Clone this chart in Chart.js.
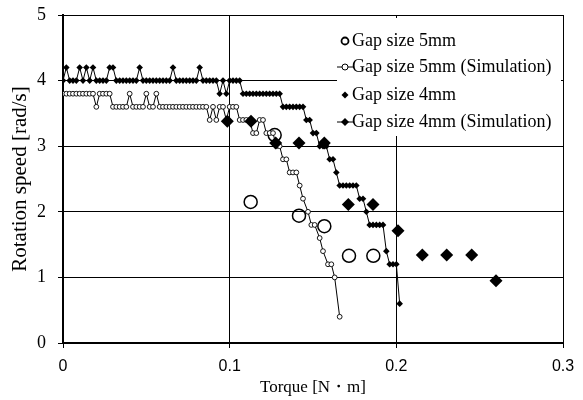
<!DOCTYPE html>
<html>
<head>
<meta charset="utf-8">
<script src="https://cdn.jsdelivr.net/npm/chart.js@4.4.1/dist/chart.umd.min.js"></script>
<style>
    html, body { margin: 0; padding: 0; background: #fff; }
</style>
</head>
<body>
<canvas id="grafico-rotacao" width="583" height="400"></canvas>
<script>
// Experimento, gap 5mm (circulos grandes)
var torque5mm = [0.1126, 0.127, 0.1416, 0.1568, 0.1716, 0.1862];
var speed5mm  = [2.15, 3.17, 1.94, 1.78, 1.33, 1.33];

// Experimento, gap 4mm (losangos grandes)
var torque4mm = [0.0986, 0.1128, 0.1276, 0.1416, 0.1568, 0.1712, 0.186, 0.201, 0.2156, 0.2302, 0.2452, 0.2598];
var speed4mm  = [3.38, 3.38, 3.05, 3.05, 3.05, 2.11, 2.11, 1.71, 1.34, 1.34, 1.34, 0.95];

// Simulacao, gap 5mm
var simTorque5mm = [
    0.000, 0.002, 0.004, 0.006, 0.008, 0.010, 0.012, 0.014, 0.016, 0.018,
    0.020, 0.022, 0.024, 0.026, 0.028, 0.030, 0.032, 0.034, 0.036, 0.038,
    0.040, 0.042, 0.044, 0.046, 0.048, 0.050, 0.052, 0.054, 0.056, 0.058,
    0.060, 0.062, 0.064, 0.066, 0.068, 0.070, 0.072, 0.074, 0.076, 0.078,
    0.080, 0.082, 0.084, 0.086, 0.088, 0.090, 0.092, 0.094, 0.096, 0.098,
    0.100, 0.102, 0.104, 0.106, 0.108, 0.110, 0.112, 0.114, 0.116, 0.118,
    0.120, 0.122, 0.124, 0.126, 0.128, 0.130, 0.132, 0.134, 0.136, 0.138,
    0.140, 0.142, 0.144, 0.147, 0.149, 0.151, 0.154, 0.156, 0.159, 0.161,
    0.163, 0.166
];
var simSpeed5mm = [
    3.8, 3.8, 3.8, 3.8, 3.8, 3.8, 3.8, 3.8, 3.8, 3.8,
    3.6, 3.8, 3.8, 3.8, 3.8, 3.6, 3.6, 3.6, 3.6, 3.6,
    3.8, 3.6, 3.6, 3.6, 3.6, 3.8, 3.6, 3.6, 3.8, 3.6,
    3.6, 3.6, 3.6, 3.6, 3.6, 3.6, 3.6, 3.6, 3.6, 3.6,
    3.6, 3.6, 3.6, 3.6, 3.4, 3.6, 3.4, 3.6, 3.6, 3.4,
    3.6, 3.6, 3.6, 3.4, 3.4, 3.4, 3.4, 3.2, 3.2, 3.4,
    3.4, 3.2, 3.2, 3.2, 3.0, 3.0, 2.8, 2.8, 2.6, 2.6,
    2.6, 2.4, 2.2, 2.0, 1.8, 1.8, 1.6, 1.4, 1.2, 1.2,
    1.0, 0.4
];

// Simulacao, gap 4mm
var simTorque4mm = [
    0.000, 0.002, 0.004, 0.006, 0.008, 0.010, 0.012, 0.014, 0.016, 0.018,
    0.020, 0.022, 0.024, 0.026, 0.028, 0.030, 0.032, 0.034, 0.036, 0.038,
    0.040, 0.042, 0.044, 0.046, 0.048, 0.050, 0.052, 0.054, 0.056, 0.058,
    0.060, 0.062, 0.064, 0.066, 0.068, 0.070, 0.072, 0.074, 0.076, 0.078,
    0.080, 0.082, 0.084, 0.086, 0.088, 0.090, 0.092, 0.094, 0.096, 0.098,
    0.100, 0.102, 0.104, 0.106, 0.108, 0.110, 0.112, 0.114, 0.116, 0.118,
    0.120, 0.122, 0.124, 0.126, 0.128, 0.130, 0.132, 0.134, 0.136, 0.138,
    0.140, 0.142, 0.144, 0.146, 0.148, 0.150, 0.152, 0.154, 0.156, 0.158,
    0.160, 0.162, 0.164, 0.166, 0.168, 0.170, 0.172, 0.174, 0.176, 0.178,
    0.180, 0.182, 0.184, 0.186, 0.188, 0.190, 0.192, 0.194, 0.196, 0.198,
    0.200, 0.202
];
var simSpeed4mm = [
    4.0, 4.2, 4.0, 4.0, 4.0, 4.2, 4.0, 4.2, 4.0, 4.2,
    4.0, 4.0, 4.0, 4.0, 4.2, 4.2, 4.0, 4.0, 4.0, 4.0,
    4.0, 4.0, 4.0, 4.2, 4.0, 4.0, 4.0, 4.0, 4.0, 4.0,
    4.0, 4.0, 4.0, 4.2, 4.0, 4.0, 4.0, 4.0, 4.0, 4.0,
    4.0, 4.2, 4.0, 4.0, 4.0, 4.0, 4.0, 3.8, 4.0, 3.8,
    4.0, 4.0, 4.0, 4.0, 3.8, 3.8, 3.8, 3.8, 3.8, 3.8,
    3.8, 3.8, 3.8, 3.8, 3.8, 3.8, 3.6, 3.6, 3.6, 3.6,
    3.6, 3.6, 3.6, 3.4, 3.4, 3.2, 3.2, 3.0, 3.0, 3.0,
    2.8, 2.8, 2.6, 2.4, 2.4, 2.4, 2.4, 2.4, 2.4, 2.2,
    2.2, 2.0, 1.8, 1.8, 1.8, 1.8, 1.8, 1.4, 1.2, 1.2,
    1.2, 0.6
];

var legendas = ["Gap size 5mm", "Gap size 5mm (Simulation)", "Gap size 4mm", "Gap size 4mm (Simulation)"];
var xTicks = [0, 0.1, 0.2, 0.3];
var yTicks = [0, 1, 2, 3, 4, 5];

function montarPontos(xs, ys) {
    return xs.map(function (x, i) {
        return { x: x, y: ys[i] };
    });
}

// marcadores da legenda
function losango(ctx, x, y, r) {
    ctx.beginPath();
    ctx.moveTo(x, y - r);
    ctx.lineTo(x + r, y);
    ctx.lineTo(x, y + r);
    ctx.lineTo(x - r, y);
    ctx.closePath();
    ctx.fill();
}

function circulo(ctx, x, y, r, larg) {
    ctx.beginPath();
    ctx.arc(x, y, r, 0, Math.PI * 2);
    ctx.fillStyle = "#fff";
    ctx.fill();
    ctx.lineWidth = larg;
    ctx.stroke();
}

var legendaPlugin = {
    id: "legendaInterna",
    afterDraw: function (chart) {
        var ctx = chart.ctx;
        var area = chart.chartArea;
        var x0 = area.right - 226;
        var linhas = [41, 67, 95, 122];
        var mx = x0 + 8;

        ctx.save();
        ctx.fillStyle = "#fff";
        ctx.fillRect(x0, area.top + 3, 224, 118);

        ctx.strokeStyle = "#000";
        ctx.fillStyle = "#000";

        // 1: circulo aberto
        circulo(ctx, mx, linhas[0], 3.5, 1.8);
        // 2: linha + circulo pequeno
        ctx.lineWidth = 1;
        ctx.beginPath();
        ctx.moveTo(x0, linhas[1]);
        ctx.lineTo(x0 + 16, linhas[1]);
        ctx.stroke();
        circulo(ctx, mx, linhas[1], 3, 1);
        // 3: losango pequeno
        ctx.fillStyle = "#000";
        losango(ctx, mx, linhas[2], 3.5);
        // 4: linha + losango
        ctx.lineWidth = 1;
        ctx.beginPath();
        ctx.moveTo(x0, linhas[3]);
        ctx.lineTo(x0 + 16, linhas[3]);
        ctx.stroke();
        losango(ctx, mx, linhas[3], 4);

        ctx.fillStyle = "#000";
        ctx.font = '18px "Liberation Serif", "Times New Roman", serif';
        ctx.textAlign = "left";
        ctx.textBaseline = "middle";
        legendas.forEach(function (t, i) {
            ctx.fillText(t, x0 + 15, linhas[i]);
        });
        ctx.restore();
    }
};

var serif = '"Liberation Serif", "Times New Roman", serif';
var sans = '"Liberation Sans", Arial, sans-serif';

new Chart(document.getElementById("grafico-rotacao"), {
    type: "scatter",
    data: {
        datasets: [
            {
                label: legendas[0],
                data: montarPontos(torque5mm, speed5mm),
                pointStyle: "circle",
                pointRadius: 6.5,
                pointBorderWidth: 1.5,
                pointBorderColor: "#000",
                pointBackgroundColor: "rgba(0,0,0,0)",
                showLine: false,
                order: 4
            },
            {
                label: legendas[1],
                data: montarPontos(simTorque5mm, simSpeed5mm),
                showLine: true,
                borderColor: "#000",
                borderWidth: 1,
                pointStyle: "circle",
                pointRadius: 2.4,
                pointBorderWidth: 0.9,
                pointBorderColor: "#000",
                pointBackgroundColor: "#fff",
                order: 3
            },
            {
                label: legendas[2],
                data: montarPontos(torque4mm, speed4mm),
                pointStyle: "rectRot",
                pointRadius: 6.5,
                pointBorderWidth: 0,
                pointBorderColor: "#000",
                pointBackgroundColor: "#000",
                showLine: false,
                order: 2
            },
            {
                label: legendas[3],
                data: montarPontos(simTorque4mm, simSpeed4mm),
                showLine: true,
                borderColor: "#000",
                borderWidth: 1,
                pointStyle: "rectRot",
                pointRadius: 3.3,
                pointBorderWidth: 0,
                pointBorderColor: "#000",
                pointBackgroundColor: "#000",
                order: 1
            }
        ]
    },
    options: {
        responsive: false,
        animation: false,
        events: [],
        layout: { padding: { left: 0, right: 20, top: 15, bottom: 0 } },
        plugins: {
            legend: { display: false },
            tooltip: { enabled: false }
        },
        scales: {
            x: {
                type: "linear",
                min: 0,
                max: 0.3,
                afterBuildTicks: function (s) {
                    s.ticks = xTicks.map(function (v) { return { value: v }; });
                },
                afterFit: function (s) {
                    s.height = 57;
                    s.paddingLeft = 0;
                    s.paddingRight = 0;
                },
                ticks: {
                    color: "#000",
                    font: { family: sans, size: 16 },
                    padding: 9,
                    maxRotation: 0,
                    callback: function (v) { return String(v); }
                },
                grid: { color: "#000", lineWidth: 1, tickLength: 5 },
                border: { color: "#000", width: 2 },
                title: {
                    display: true,
                    text: "Torque [N・m]",
                    color: "#000",
                    font: { family: serif, size: 17 },
                    padding: { top: 0, bottom: 2 }
                }
            },
            y: {
                type: "linear",
                min: 0,
                max: 5,
                afterBuildTicks: function (s) {
                    s.ticks = yTicks.map(function (v) { return { value: v }; });
                },
                afterFit: function (s) {
                    s.width = 63;
                    s.paddingTop = 0;
                    s.paddingBottom = 0;
                },
                ticks: {
                    color: "#000",
                    font: { family: serif, size: 18 },
                    padding: 12,
                    callback: function (v) { return String(v); }
                },
                grid: { color: "#000", lineWidth: 1, tickLength: 5 },
                border: { color: "#000", width: 2 },
                title: {
                    display: true,
                    text: "Rotation speed [rad/s]",
                    color: "#000",
                    font: { family: serif, size: 21 },
                    padding: { top: 8, bottom: 0 }
                }
            }
        }
    },
    plugins: [legendaPlugin]
});
</script>
</body>
</html>
